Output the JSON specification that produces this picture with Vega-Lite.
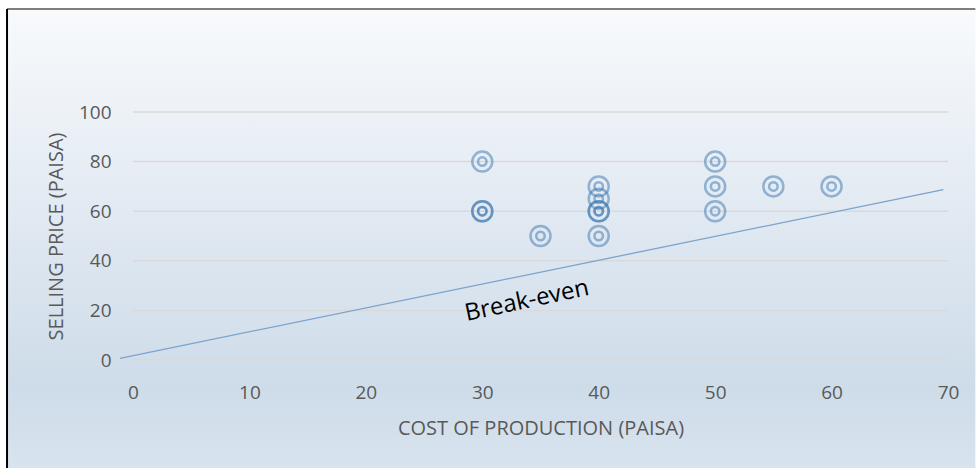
{
  "$schema": "https://vega.github.io/schema/vega-lite/v6.json",
  "width": 815,
  "height": 248,
  "autosize": "none",
  "padding": {"left": 133, "top": 112, "right": 28, "bottom": 108},
  "background": "#ffffff",
  "config": {
    "view": {"stroke": null},
    "font": "Open Sans",
    "axis": {"labelColor": "#595959", "titleColor": "#595959", "labelFontSize": 19, "titleFontSize": 20, "titleFontWeight": "normal", "domain": false, "ticks": false, "grid": false, "labelFlush": false}
  },
  "datasets": {
    "bg": [{"id": 1}],
    "grid": [{"v": 0}, {"v": 20}, {"v": 40}, {"v": 60}, {"v": 80}, {"v": 100}],
    "breakeven": [{"cost": -1.12, "price": 0.69}, {"cost": 69.6, "price": 68.67}],
    "points": [
      {"cost": 30, "price": 80},
      {"cost": 30, "price": 60},
      {"cost": 30, "price": 60},
      {"cost": 35, "price": 50},
      {"cost": 40, "price": 70},
      {"cost": 40, "price": 65},
      {"cost": 40, "price": 60},
      {"cost": 40, "price": 60},
      {"cost": 40, "price": 50},
      {"cost": 50, "price": 80},
      {"cost": 50, "price": 70},
      {"cost": 50, "price": 60},
      {"cost": 55, "price": 70},
      {"cost": 60, "price": 70}
    ],
    "label": [{"cost": 33.84, "price": 23.8, "text": "Break-even"}]
  },
  "layer": [
    {
      "data": {"name": "bg"},
      "mark": {
        "type": "rect",
        "fill": {
          "gradient": "linear", "x1": 0, "y1": 0, "x2": 0, "y2": 1,
          "stops": [
            {"offset": 0, "color": "#f8fafc"},
            {"offset": 0.45, "color": "#e1e9f2"},
            {"offset": 0.82, "color": "#cedce9"},
            {"offset": 1, "color": "#d8e3ee"}
          ]
        }
      },
      "encoding": {
        "x": {"datum": -10.82, "type": "quantitative", "scale": {"domain": [0, 70], "nice": false, "zero": false}},
        "x2": {"datum": 72.35},
        "y": {"datum": 141.53, "type": "quantitative", "scale": {"domain": [0, 100], "nice": false, "zero": false}},
        "y2": {"datum": -43.5}
      }
    },
    {
      "data": {"name": "grid"},
      "mark": {"type": "rule", "color": "#d9d9d9", "strokeWidth": 1.5},
      "encoding": {
        "y": {"field": "v", "type": "quantitative", "scale": {"domain": [0, 100], "nice": false, "zero": false}},
        "x": {"datum": 0, "type": "quantitative", "scale": {"domain": [0, 70], "nice": false, "zero": false}},
        "x2": {"datum": 70}
      }
    },
    {
      "data": {"name": "breakeven"},
      "mark": {"type": "line", "color": "#7ba3cc", "strokeWidth": 1.3},
      "encoding": {
        "x": {"field": "cost", "type": "quantitative", "scale": {"domain": [0, 70], "nice": false, "zero": false}},
        "y": {"field": "price", "type": "quantitative", "scale": {"domain": [0, 100], "nice": false, "zero": false}}
      }
    },
    {
      "data": {"name": "points"},
      "mark": {"type": "point", "shape": "circle", "filled": false, "size": 400, "strokeWidth": 2.5, "color": "#3d78b2", "strokeOpacity": 0.72},
      "encoding": {
        "x": {
          "field": "cost", "type": "quantitative",
          "scale": {"domain": [0, 70], "nice": false, "zero": false},
          "axis": {"title": "COST OF PRODUCTION (PAISA)", "values": [0, 10, 20, 30, 40, 50, 60, 70], "labelPadding": 23, "titlePadding": 16, "zindex": 1}
        },
        "y": {
          "field": "price", "type": "quantitative",
          "scale": {"domain": [0, 100], "nice": false, "zero": false},
          "axis": {"title": "SELLING PRICE (PAISA)", "values": [0, 20, 40, 60, 80, 100], "labelPadding": 22, "titlePadding": 12, "zindex": 1}
        }
      }
    },
    {
      "data": {"name": "points"},
      "mark": {"type": "point", "shape": "circle", "filled": false, "size": 72, "strokeWidth": 2.5, "color": "#3d78b2", "strokeOpacity": 0.72},
      "encoding": {
        "x": {"field": "cost", "type": "quantitative", "scale": {"domain": [0, 70], "nice": false, "zero": false}},
        "y": {"field": "price", "type": "quantitative", "scale": {"domain": [0, 100], "nice": false, "zero": false}}
      }
    },
    {
      "data": {"name": "label"},
      "mark": {"type": "text", "font": "Open Sans", "fontSize": 24, "color": "#000000", "angle": -12, "align": "center", "baseline": "middle"},
      "encoding": {
        "x": {"field": "cost", "type": "quantitative", "scale": {"domain": [0, 70], "nice": false, "zero": false}},
        "y": {"field": "price", "type": "quantitative", "scale": {"domain": [0, 100], "nice": false, "zero": false}},
        "text": {"field": "text", "type": "nominal"}
      }
    },
    {
      "data": {"name": "bg"},
      "mark": {"type": "rule", "color": "#000000", "strokeWidth": 1.2},
      "encoding": {
        "x": {"datum": -10.82, "type": "quantitative", "scale": {"domain": [0, 70], "nice": false, "zero": false}},
        "x2": {"datum": 72.35},
        "y": {"datum": 141.53, "type": "quantitative", "scale": {"domain": [0, 100], "nice": false, "zero": false}}
      }
    },
    {
      "data": {"name": "bg"},
      "mark": {"type": "rule", "color": "#000000", "strokeWidth": 2},
      "encoding": {
        "x": {"datum": -10.82, "type": "quantitative", "scale": {"domain": [0, 70], "nice": false, "zero": false}},
        "y": {"datum": 141.53, "type": "quantitative", "scale": {"domain": [0, 100], "nice": false, "zero": false}},
        "y2": {"datum": -43.5}
      }
    }
  ]
}
